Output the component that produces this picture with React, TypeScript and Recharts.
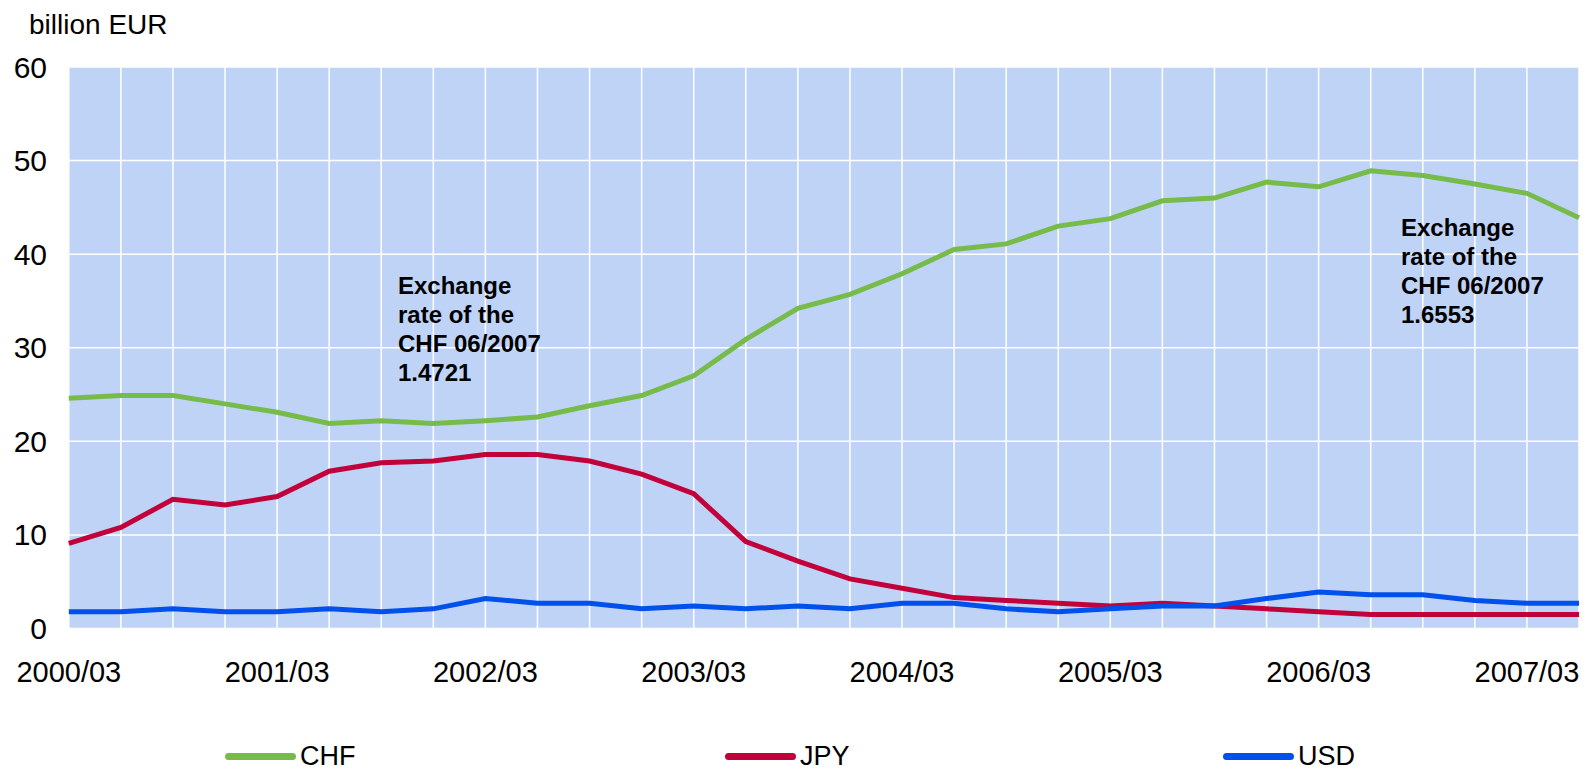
import React from 'react';
import { LineChart, Line, XAxis, YAxis, CartesianGrid } from 'recharts';

// quarter-end dates, 2000 Q1 .. 2007 Q2
const quarters = [
  '2000/03', '2000/06', '2000/09', '2000/12',
  '2001/03', '2001/06', '2001/09', '2001/12',
  '2002/03', '2002/06', '2002/09', '2002/12',
  '2003/03', '2003/06', '2003/09', '2003/12',
  '2004/03', '2004/06', '2004/09', '2004/12',
  '2005/03', '2005/06', '2005/09', '2005/12',
  '2006/03', '2006/06', '2006/09', '2006/12',
  '2007/03', '2007/06',
];

// loans by currency, billion EUR
const chf = [
  24.6, 24.9, 24.9, 24.0, 23.1, 21.9, 22.2, 21.9, 22.2, 22.6,
  23.8, 24.9, 27.0, 30.9, 34.2, 35.7, 37.9, 40.5, 41.1, 43.0,
  43.8, 45.7, 46.0, 47.7, 47.2, 48.9, 48.4, 47.5, 46.5, 43.9,
];
const jpy = [
  9.1, 10.8, 13.8, 13.2, 14.1, 16.8, 17.7, 17.9, 18.6, 18.6,
  17.9, 16.5, 14.4, 9.3, 7.2, 5.3, 4.3, 3.3, 3.0, 2.7,
  2.4, 2.7, 2.4, 2.1, 1.8, 1.5, 1.5, 1.5, 1.5, 1.5,
];
const usd = [
  1.8, 1.8, 2.1, 1.8, 1.8, 2.1, 1.8, 2.1, 3.2, 2.7,
  2.7, 2.1, 2.4, 2.1, 2.4, 2.1, 2.7, 2.7, 2.1, 1.8,
  2.1, 2.4, 2.4, 3.2, 3.9, 3.6, 3.6, 3.0, 2.7, 2.7,
];

const yTicks = [0, 10, 20, 30, 40, 50, 60];

const noteLeft = ['Exchange', 'rate of the', 'CHF 06/2007', '1.4721'];
const noteRight = ['Exchange', 'rate of the', 'CHF 06/2007', '1.6553'];

const series = [
  { key: 'CHF', color: '#77bb4b' },
  { key: 'JPY', color: '#c2003a' },
  { key: 'USD', color: '#0050ec' },
];

const data = quarters.map((q, i) => ({ q, CHF: chf[i], JPY: jpy[i], USD: usd[i] }));

const FONT = '"Liberation Sans", Arial, sans-serif';
const W = 1587;
const H = 773;

// only March quarters get a label; every quarter still gets a grid line
const XTick = ({ x, y, payload }: any) => {
  if (!payload.value.endsWith('/03')) return null;
  return (
    <text x={x} y={y + 53} textAnchor="middle" fontSize={29} fill="#000" fontFamily={FONT}>
      {payload.value}
    </text>
  );
};

const YTick = ({ y, payload }: any) => (
  <text x={47} y={y + 10.5} textAnchor="end" fontSize={30} fill="#000" fontFamily={FONT}>
    {payload.value}
  </text>
);

const Note = ({ left, top, lines }: { left: number; top: number; lines: string[] }) => (
  <div
    style={{
      position: 'absolute', left, top, fontFamily: FONT, fontWeight: 700,
      fontSize: 24, lineHeight: '29px', color: '#000', whiteSpace: 'nowrap',
    }}
  >
    {lines.map((l) => <div key={l}>{l}</div>)}
  </div>
);

const legendX = [225, 725, 1223];

export default function App() {
  return (
    <div style={{ position: 'absolute', left: 0, top: 0, width: W, height: H, background: '#fff', fontFamily: FONT }}>
      <div style={{ position: 'absolute', left: 29, top: 9, fontSize: 28, color: '#000' }}>billion EUR</div>
      <LineChart width={W} height={H} data={data} margin={{ top: 67, right: 8, bottom: 114.5, left: 8.8 }}>
        <CartesianGrid fill="#bfd3f7" stroke="#ffffff" strokeWidth={1.5} fillOpacity={1} />
        <XAxis
          dataKey="q"
          interval={0}
          axisLine={false}
          tickLine={false}
          tickSize={0}
          tickMargin={0}
          height={30}
          tick={<XTick />}
        />
        <YAxis
          domain={[0, 60]}
          ticks={yTicks}
          width={60}
          axisLine={false}
          tickLine={false}
          tick={<YTick />}
        />
        {series.map((s) => (
          <Line
            key={s.key}
            type="linear"
            dataKey={s.key}
            stroke={s.color}
            strokeWidth={5}
            dot={false}
            activeDot={false}
            isAnimationActive={false}
          />
        ))}
      </LineChart>
      <Note left={398} top={271} lines={noteLeft} />
      <Note left={1401} top={213} lines={noteRight} />
      {series.map((s, i) => (
        <div key={s.key} style={{ position: 'absolute', left: legendX[i], top: 741, display: 'flex', alignItems: 'center' }}>
          <div style={{ width: 71, height: 7, borderRadius: 4, background: s.color }} />
          <span style={{ fontSize: 27, color: '#000', marginLeft: 4 }}>{s.key}</span>
        </div>
      ))}
    </div>
  );
}
